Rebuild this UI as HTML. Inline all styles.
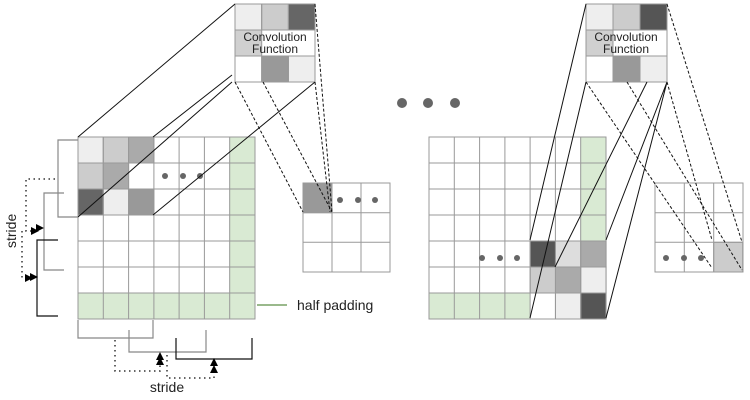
<!DOCTYPE html>
<html><head><meta charset="utf-8"><style>body{margin:0;background:#fff}svg{display:block}</style></head>
<body>
<svg width="750" height="400" xmlns="http://www.w3.org/2000/svg" font-family="Liberation Sans, sans-serif">
<defs>
<marker id="ar" markerWidth="8" markerHeight="8" refX="7" refY="4" orient="auto" markerUnits="userSpaceOnUse"><path d="M0,0L8,4L0,8z" fill="#000"/></marker>
</defs>
<g stroke="#999" stroke-width="1">
<!-- Left grid -->
<g id="lg">
<rect x="78" y="137" width="177" height="182" fill="#fff"/>
<rect x="229.3" y="137" width="25.3" height="156" fill="#d9ead3" stroke="none"/>
<rect x="78" y="293" width="177" height="26" fill="#d9ead3" stroke="none"/>
<rect x="78" y="137" width="25.3" height="26" fill="#eee"/>
<rect x="103.3" y="137" width="25.3" height="26" fill="#ccc"/>
<rect x="128.6" y="137" width="25.3" height="26" fill="#aaa"/>
<rect x="78" y="163" width="25.3" height="26" fill="#ccc"/>
<rect x="103.3" y="163" width="25.3" height="26" fill="#aaa"/>
<rect x="78" y="189" width="25.3" height="26" fill="#666"/>
<rect x="103.3" y="189" width="25.3" height="26" fill="#eee"/>
<rect x="128.6" y="189" width="25.3" height="26" fill="#999"/>
<path fill="none" d="M78,137H255V319H78Z M103.3,137V319 M128.6,137V319 M153.9,137V319 M179.1,137V319 M204.4,137V319 M229.7,137V319 M78,163H255 M78,189H255 M78,215H255 M78,241H255 M78,267H255 M78,293H255"/>
</g>
<!-- Right grid -->
<rect x="429" y="137" width="177" height="182" fill="#fff"/>
<rect x="580.3" y="137" width="25.3" height="104" fill="#d9ead3" stroke="none"/>
<rect x="429" y="293" width="101" height="26" fill="#d9ead3" stroke="none"/>
<rect x="530.2" y="241" width="25.3" height="26" fill="#555"/>
<rect x="555.5" y="241" width="25.3" height="26" fill="#ddd"/>
<rect x="580.8" y="241" width="25.3" height="26" fill="#aaa"/>
<rect x="530.2" y="267" width="25.3" height="26" fill="#ccc"/>
<rect x="555.5" y="267" width="25.3" height="26" fill="#aaa"/>
<rect x="580.8" y="267" width="25.3" height="26" fill="#eee"/>
<rect x="555.5" y="293" width="25.3" height="26" fill="#eee"/>
<rect x="580.8" y="293" width="25.3" height="26" fill="#555"/>
<path fill="none" d="M429,137H606V319H429Z M454.3,137V319 M479.6,137V319 M504.9,137V319 M530.1,137V319 M555.4,137V319 M580.7,137V319 M429,163H606 M429,189H606 M429,215H606 M429,241H606 M429,267H606 M429,293H606"/>
<!-- kernels -->
<g>
<rect x="235" y="4" width="80" height="78" fill="#fff"/>
<rect x="235" y="4" width="26.7" height="26" fill="#eee"/>
<rect x="261.7" y="4" width="26.7" height="26" fill="#ccc"/>
<rect x="288.4" y="4" width="26.6" height="26" fill="#666"/>
<rect x="235" y="30" width="26.7" height="26" fill="#d0d0d0"/>
<rect x="261.7" y="56" width="26.7" height="26" fill="#999"/>
<rect x="288.4" y="56" width="26.6" height="26" fill="#eee"/>
<path fill="none" d="M235,4H315V82H235Z M261.7,4V30 M288.4,4V30 M261.7,56V82 M288.4,56V82 M235,30H315 M235,56H315"/>
</g>
<g>
<rect x="586" y="4" width="81" height="78" fill="#fff"/>
<rect x="586" y="4" width="27" height="26" fill="#eee"/>
<rect x="613" y="4" width="27" height="26" fill="#ccc"/>
<rect x="640" y="4" width="27" height="26" fill="#555"/>
<rect x="586" y="30" width="27" height="26" fill="#d0d0d0"/>
<rect x="613" y="56" width="27" height="26" fill="#999"/>
<rect x="640" y="56" width="27" height="26" fill="#eee"/>
<path fill="none" d="M586,4H667V82H586Z M613,4V30 M640,4V30 M613,56V82 M640,56V82 M586,30H667 M586,56H667"/>
</g>
<!-- outputs -->
<rect x="303" y="183" width="29" height="29.7" fill="#999"/>
<path fill="#fff" fill-opacity="0" d="M303,183H390V272H303Z M332,183V272 M361,183V272 M303,212.7H390 M303,242.3H390"/>
<rect x="713.7" y="242.3" width="29" height="29.7" fill="#ccc"/>
<path fill="none" d="M655,183H743V272H655Z M684.3,183V272 M713.7,183V272 M655,212.7H743 M655,242.3H743"/>
</g>
<text x="275" y="41" font-size="12" text-anchor="middle" fill="#222">Convolution</text>
<text x="275" y="53" font-size="12" text-anchor="middle" fill="#222">Function</text>
<text x="626" y="41" font-size="12" text-anchor="middle" fill="#222">Convolution</text>
<text x="626" y="53" font-size="12" text-anchor="middle" fill="#222">Function</text>
<!-- dots -->
<g fill="#666">
<circle cx="165" cy="176" r="3"/><circle cx="183" cy="176" r="3"/><circle cx="200" cy="176" r="3"/>
<circle cx="340" cy="200" r="3"/><circle cx="358" cy="200" r="3"/><circle cx="375" cy="200" r="3"/>
<circle cx="482" cy="258" r="3"/><circle cx="500" cy="258" r="3"/><circle cx="517" cy="258" r="3"/>
<circle cx="666" cy="258" r="3"/><circle cx="684" cy="258" r="3"/><circle cx="701" cy="258" r="3"/>
<circle cx="402" cy="103" r="5"/><circle cx="428" cy="103" r="5"/><circle cx="455" cy="103" r="5"/>
</g>
<!-- projection lines -->
<g stroke="#111" stroke-width="1" fill="none">
<path d="M235,4L78,137 M232,75L153,137 M232,82L78,217 M315,82L153,215"/>
<path d="M586,4L530,240 M586,82L530,318 M647,82L555,267 M667,82L606,318 M667,82L606,240"/>
</g>
<g stroke="#111" stroke-width="1" fill="none" stroke-dasharray="3,2">
<path d="M235,82L303,212 M263,82L332,212 M315,4L332,212 M315,82L330,212"/>
<path d="M667,4L742,242 M586,82L712,268 M627,82L742,270 M667,82L712,240"/>
</g>
<!-- brackets -->
<g fill="none" stroke-width="1.2">
<path d="M78,140H58V217H78" stroke="#888"/>
<path d="M64,193H44V270H64" stroke="#888"/>
<path d="M58,240H37V316H58" stroke="#111"/>
<path d="M78,320V338H153V320" stroke="#888"/>
<path d="M129,330V352H206V330" stroke="#888"/>
<path d="M176,338V359H252V338" stroke="#111"/>
</g>
<g fill="none" stroke="#333" stroke-width="1.5" stroke-dasharray="1.5,3.5">
<path d="M55,179H26V231H38" marker-end="url(#ar)"/>
<path d="M22,231V278H32" marker-end="url(#ar)"/>
<path d="M115,340V371H160V358" marker-end="url(#ar)"/>
<path d="M167,355V378H214V366" marker-end="url(#ar)"/>
</g>
<path d="M36,224L44,228L36,232Z M30,273L38,277L30,281Z M156,360L160,352L164,360Z M210,366L214,358L218,366Z" fill="#000"/>
<text x="0" y="0" font-size="14" fill="#222" transform="translate(16,248) rotate(-90)">stride</text>
<text x="167" y="392" font-size="14" fill="#222" text-anchor="middle">stride</text>
<line x1="257" y1="305" x2="287" y2="305" stroke="#9ab98c" stroke-width="2"/>
<text x="297" y="310" font-size="14" fill="#222">half padding</text>
</svg>
</body></html>
